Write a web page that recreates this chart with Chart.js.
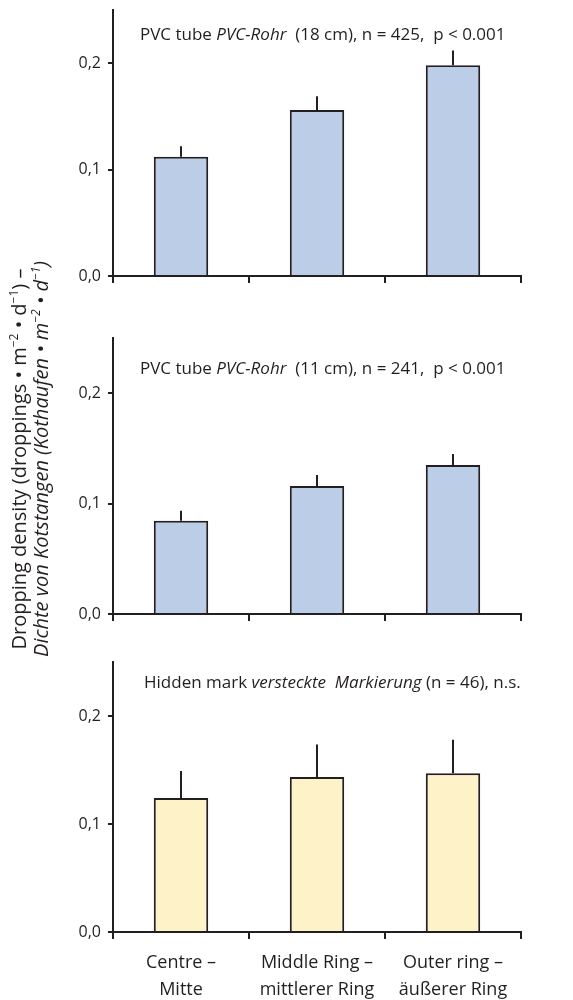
<!DOCTYPE html>
<html lang="en">
<head>
  <meta charset="UTF-8">
  <title>Dropping density</title>
  <script src="https://cdn.jsdelivr.net/npm/chart.js"></script>
  <style>
    body {
      margin: 0;
      padding: 0;
      background: #fff;
      font-family: 'Open Sans', sans-serif;
      color: #231f20;
    }
    #wrap {
      position: relative;
      width: 573px;
      height: 1000px;
    }
    .panel {
      position: absolute;
      left: 0;
      width: 573px;
    }
    #ytitle {
      position: absolute;
      left: -210px;
      top: 437px;
      width: 480px;
      height: 44px;
      line-height: 22px;
      font-size: 20px;
      text-align: center;
      white-space: nowrap;
      transform: rotate(-90deg);
      transform-origin: center;
    }
    #ytitle sup { font-size: 12px; line-height: 0; }
  </style>
</head>
<body>
  <div id="wrap">
    <div class="panel" style="top:0;height:300px"><canvas id="c1"></canvas></div>
    <div class="panel" style="top:300px;height:340px"><canvas id="c2"></canvas></div>
    <div class="panel" style="top:640px;height:360px"><canvas id="c3"></canvas></div>
    <div id="ytitle">
      Dropping density (droppings • m<sup>−2</sup> • d<sup>−1</sup>) –<br>
      <i>Dichte von Kotstangen (Kothaufen • m<sup>−2</sup> • d<sup>−1</sup>)</i>
    </div>
  </div>

  <script>
    const categories = [['Centre –', 'Mitte'], ['Middle Ring –', 'mittlerer Ring'], ['Outer ring –', 'äußerer Ring']];
    const yTicks = [0, 0.1, 0.2];
    const yTickLabels = ['0,0', '0,1', '0,2'];

    const tube18Values = [0.112, 0.156, 0.198];
    const tube18Errors = [0.010, 0.013, 0.014];
    const tube18Title = ['PVC tube ', 'PVC-Rohr', '  (18 cm), n = 425,  p < 0.001'];

    const tube11Values = [0.0845, 0.116, 0.135];
    const tube11Errors = [0.009, 0.010, 0.010];
    const tube11Title = ['PVC tube ', 'PVC-Rohr', '  (11 cm), n = 241,  p < 0.001'];

    const hiddenValues = [0.124, 0.1435, 0.147];
    const hiddenErrors = [0.025, 0.030, 0.031];
    const hiddenTitle = ['Hidden mark ', 'versteckte  Markierung', ' (n = 46), n.s.'];

    const ink = '#231f20';
    const fontFamily = "'Open Sans', sans-serif";

    // error bars: one line upwards from the top of each bar
    const errorBars = {
      id: 'errorBars',
      afterDatasetsDraw(chart, args, opts) {
        const ctx = chart.ctx;
        const yScale = chart.scales.y;
        const meta = chart.getDatasetMeta(0);
        const values = chart.data.datasets[0].data;
        ctx.save();
        ctx.strokeStyle = ink;
        ctx.lineWidth = 2;
        meta.data.forEach((bar, i) => {
          const top = yScale.getPixelForValue(values[i]);
          const end = yScale.getPixelForValue(values[i] + opts.errors[i]);
          ctx.beginPath();
          ctx.moveTo(bar.x, top);
          ctx.lineTo(bar.x, end);
          ctx.stroke();
        });
        ctx.restore();
      }
    };

    // panel title: normal / italic / normal
    const panelTitle = {
      id: 'panelTitle',
      afterDraw(chart, args, opts) {
        const ctx = chart.ctx;
        ctx.save();
        ctx.fillStyle = ink;
        ctx.textBaseline = 'middle';
        let x = opts.x;
        opts.parts.forEach((part, i) => {
          ctx.font = (i === 1 ? 'italic ' : '') + opts.size + 'px ' + fontFamily;
          ctx.fillText(part, x, opts.y);
          x += ctx.measureText(part).width;
        });
        ctx.restore();
      }
    };

    function makePanel(id, values, errors, title, fill, layout) {
      return new Chart(document.getElementById(id), {
        type: 'bar',
        data: {
          labels: categories,
          datasets: [{
            data: values,
            backgroundColor: fill,
            borderColor: ink,
            borderWidth: 2,
            barPercentage: 0.4,
            categoryPercentage: 1
          }]
        },
        options: {
          responsive: true,
          maintainAspectRatio: false,
          animation: false,
          layout: {
            padding: { left: 60, right: 52, top: layout.top, bottom: 0 }
          },
          plugins: {
            legend: { display: false },
            tooltip: { enabled: false },
            errorBars: { errors: errors },
            panelTitle: { parts: title, x: layout.titleX, y: layout.titleY, size: 17 }
          },
          scales: {
            x: {
              afterFit(scale) { scale.height = layout.xHeight; },
              border: { display: true, color: ink, width: 2 },
              grid: {
                offset: true,
                drawOnChartArea: false,
                drawTicks: true,
                tickLength: 7,
                color: ink,
                lineWidth: 2
              },
              ticks: {
                display: layout.showLabels,
                color: ink,
                padding: 10,
                font: { family: fontFamily, size: 18, lineHeight: 1.5 }
              }
            },
            y: {
              min: 0,
              max: 0.25,
              afterFit(scale) {
                scale.width = 53;
                scale.paddingTop = 0;
                scale.paddingBottom = 0;
              },
              afterBuildTicks(scale) {
                scale.ticks = yTicks.map(v => ({ value: v }));
              },
              border: { display: true, color: ink, width: 2 },
              grid: {
                drawOnChartArea: false,
                drawTicks: true,
                tickLength: 5,
                color: ink,
                lineWidth: 2
              },
              ticks: {
                color: ink,
                padding: 7,
                font: { family: fontFamily, size: 16 },
                callback: (v, i) => yTickLabels[i]
              }
            }
          }
        },
        plugins: [errorBars, panelTitle]
      });
    }

    makePanel('c1', tube18Values, tube18Errors, tube18Title, '#bccde8',
      { top: 10, xHeight: 24, showLabels: false, titleX: 140, titleY: 35 });
    makePanel('c2', tube11Values, tube11Errors, tube11Title, '#bccde8',
      { top: 38, xHeight: 26, showLabels: false, titleX: 140, titleY: 69 });
    makePanel('c3', hiddenValues, hiddenErrors, hiddenTitle, '#fef3c8',
      { top: 22, xHeight: 68, showLabels: true, titleX: 144, titleY: 43 });
  </script>
</body>
</html>
